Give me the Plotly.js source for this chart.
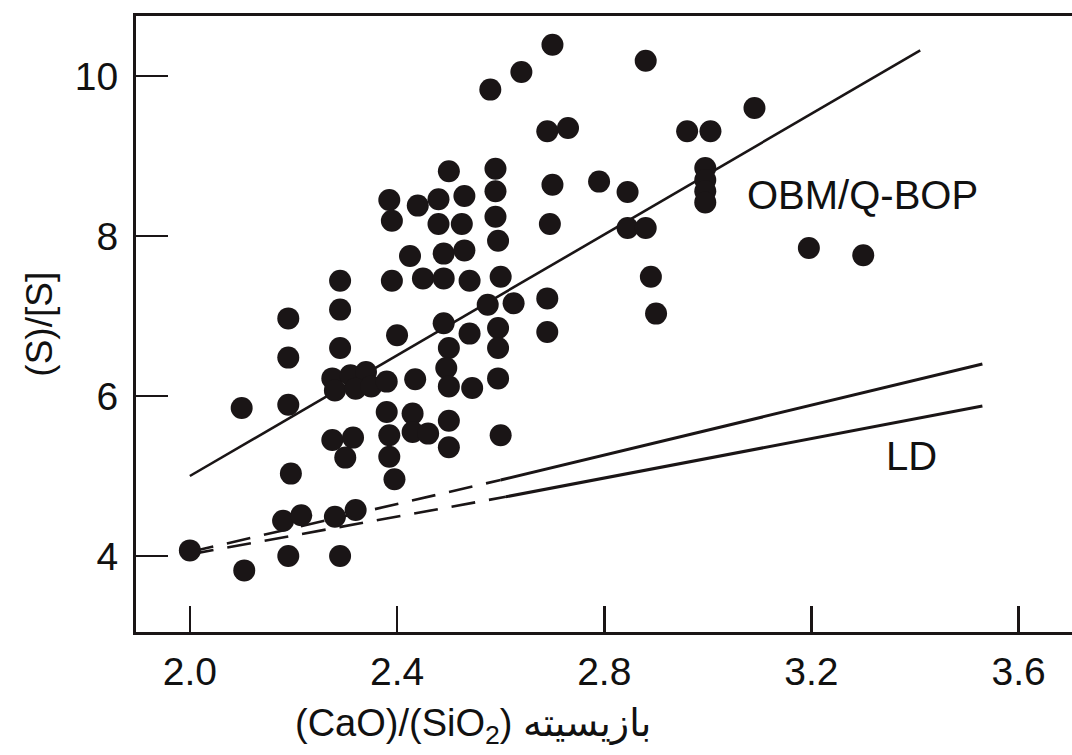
<!DOCTYPE html>
<html>
<head>
<meta charset="utf-8">
<script src="https://cdn.plot.ly/plotly-3.0.1.min.js"></script>
<style>html,body{margin:0;padding:0;background:#fff;}#chart{width:1072px;height:755px;}</style>
</head>
<body>
<div id="chart"></div>
<script>
// ---- data ----
const basicity = [
  2.70,2.64,2.58,2.69,2.73,2.50,2.59,2.70,2.385,2.44,2.48,2.53,2.59,2.39,2.48,2.525,2.59,2.695,
  2.425,2.49,2.53,2.595,2.29,2.39,2.45,2.49,2.54,2.60,2.69,2.29,2.19,2.575,2.625,2.49,2.595,2.69,
  2.19,2.29,2.40,2.54,2.595,2.595,2.50,2.495,2.50,2.545,2.275,2.31,2.34,2.28,2.32,2.35,2.38,2.435,
  2.10,2.19,2.38,2.43,2.43,2.46,2.50,2.60,2.275,2.315,2.30,2.385,2.385,2.395,2.50,2.195,
  2.18,2.215,2.28,2.32,2.00,2.19,2.29,2.105,
  2.88,3.09,2.96,3.005,2.79,2.845,2.995,2.995,2.995,2.995,2.845,2.88,3.195,3.30,2.89,2.90
];
const sulfurRatio = [
  10.39,10.05,9.83,9.31,9.35,8.81,8.84,8.64,8.45,8.38,8.46,8.50,8.56,8.19,8.15,8.15,8.24,8.15,
  7.75,7.78,7.82,7.94,7.44,7.44,7.47,7.47,7.44,7.49,7.22,7.08,6.97,7.14,7.16,6.91,6.85,6.80,
  6.48,6.60,6.76,6.78,6.60,6.22,6.60,6.35,6.12,6.10,6.22,6.26,6.30,6.07,6.09,6.12,6.18,6.21,
  5.85,5.89,5.80,5.78,5.55,5.53,5.69,5.51,5.45,5.48,5.23,5.51,5.24,4.96,5.36,5.03,
  4.44,4.51,4.49,4.575,4.07,4.00,4.00,3.82,
  10.19,9.60,9.31,9.31,8.68,8.55,8.85,8.70,8.56,8.42,8.10,8.10,7.85,7.76,7.49,7.03
];
// regression line OBM/Q-BOP
const obmX = [2.0, 3.41];
const obmY = [5.0, 10.32];
// LD lines (solid part) and their dashed extrapolation
const ldUpperX = [2.60, 3.53];
const ldUpperY = [4.95, 6.40];
const ldLowerX = [2.61, 3.53];
const ldLowerY = [4.74, 5.875];
const ldUpperDashX = [2.0, 2.60];
const ldUpperDashY = [4.05, 4.95];
const ldLowerDashX = [2.0, 2.61];
const ldLowerDashY = [4.02, 4.74];

const xTickVals = [2.0, 2.4, 2.8, 3.2, 3.6];
const xTickText = ['2.0', '2.4', '2.8', '3.2', '3.6'];
const yTickVals = [4, 6, 8, 10];
const yTickText = ['4', '6', '8', '10'];

const ink = '#1a1516';
const fontFam = '"Liberation Sans", Arial, "DejaVu Sans", sans-serif';

const lineStyle = {color: ink, width: 3};
const traces = [
  {x: obmX, y: obmY, mode: 'lines', line: {color: ink, width: 2.6}, hoverinfo: 'skip'},
  {x: ldUpperX, y: ldUpperY, mode: 'lines', line: lineStyle, hoverinfo: 'skip'},
  {x: ldLowerX, y: ldLowerY, mode: 'lines', line: lineStyle, hoverinfo: 'skip'},
  {x: ldUpperDashX, y: ldUpperDashY, mode: 'lines', line: {color: ink, width: 2.6, dash: '24px,14px'}, hoverinfo: 'skip'},
  {x: ldLowerDashX, y: ldLowerDashY, mode: 'lines', line: {color: ink, width: 2.6, dash: '24px,14px'}, hoverinfo: 'skip'},
  {x: basicity, y: sulfurRatio, mode: 'markers', marker: {color: ink, size: 22, line: {width: 0}}}
];

const layout = {
  width: 1072, height: 755,
  margin: {l: 136, r: 0, t: 16, b: 123, pad: 0},
  paper_bgcolor: '#fff', plot_bgcolor: '#fff',
  showlegend: false,
  font: {family: fontFam, color: '#111'},
  xaxis: {
    range: [1.896, 3.703], showgrid: false, zeroline: false,
    showline: true, linecolor: ink, linewidth: 3, mirror: true,
    ticks: 'inside', ticklen: 26, tickwidth: 2.5, tickcolor: ink,
    tickvals: xTickVals, ticktext: xTickText,
    tickfont: {size: 39, family: fontFam, color: '#111'},
    ticklabelstandoff: 3
  },
  yaxis: {
    range: [3.05, 10.75], showgrid: false, zeroline: false,
    showline: true, linecolor: ink, linewidth: 3,
    ticks: 'inside', ticklen: 32, tickwidth: 2.5, tickcolor: ink,
    tickvals: yTickVals, ticktext: yTickText,
    tickfont: {size: 39, family: fontFam, color: '#111'},
    ticklabelstandoff: 7
  },
  annotations: [
    {xref: 'x', yref: 'y', x: 3.299, y: 8.51, text: 'OBM/Q-BOP', showarrow: false,
     font: {size: 40, family: fontFam, color: '#111'}, xanchor: 'center', yanchor: 'middle'},
    {xref: 'x', yref: 'y', x: 3.394, y: 5.25, text: 'LD', showarrow: false,
     font: {size: 40, family: fontFam, color: '#111'}, xanchor: 'center', yanchor: 'middle'},
    {xref: 'paper', yref: 'paper', x: 0.36, y: -0.152, text: '(CaO)/(SiO<sub>2</sub>) بازیسیته', showarrow: false,
     font: {size: 38, family: fontFam, color: '#111'}, xanchor: 'center', yanchor: 'middle'},
    {xref: 'paper', yref: 'paper', x: -0.104, y: 0.5, text: '(S)/[S]', showarrow: false, textangle: -90,
     font: {size: 37, family: fontFam, color: '#111'}, xanchor: 'center', yanchor: 'middle'}
  ]
};

Plotly.newPlot('chart', traces, layout, {displayModeBar: false, staticPlot: true});
</script>
</body>
</html>
